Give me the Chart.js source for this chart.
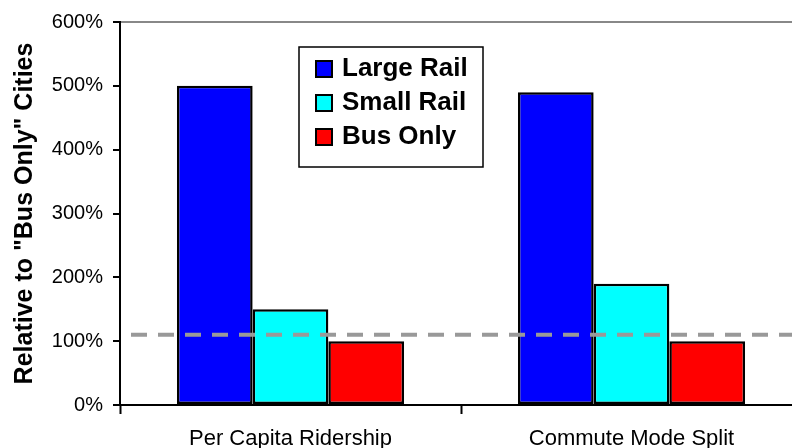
<!DOCTYPE html>
<html>
<head>
<meta charset="utf-8">
<script src="https://cdn.jsdelivr.net/npm/chart.js@4"></script>
<style>
  html, body { margin: 0; padding: 0; overflow: hidden; background: #fff; }
  canvas { display: block; }
</style>
</head>
<body>
<canvas id="chart" width="820" height="448"></canvas>
<script>
const categories = ['Per Capita Ridership', 'Commute Mode Split'];
const largeRail = [500, 490];
const smallRail = [150, 190];
const busOnly = [100, 100];
const referenceLevel = 110;
const yTicks = [0, 100, 200, 300, 400, 500, 600];

const FONT = '"Liberation Sans", Arial, sans-serif';

// dashed reference line across the plot
const refLine = {
  id: 'refLine',
  afterDatasetsDraw(chart) {
    const { ctx, chartArea, scales } = chart;
    const y = scales.y.getPixelForValue(referenceLevel);
    ctx.save();
    ctx.strokeStyle = '#999999';
    ctx.lineWidth = 4;
    ctx.setLineDash([16, 11]);
    ctx.beginPath();
    ctx.moveTo(chartArea.left + 11, y);
    ctx.lineTo(chartArea.right, y);
    ctx.stroke();
    ctx.restore();
  }
};

// boxed legend floating inside the plot
const boxLegend = {
  id: 'boxLegend',
  afterDraw(chart) {
    const ctx = chart.ctx;
    const x0 = 299, y0 = 47, w = 184, h = 120;
    ctx.save();
    ctx.fillStyle = '#fff';
    ctx.fillRect(x0, y0, w, h);
    ctx.strokeStyle = '#000';
    ctx.lineWidth = 1.5;
    ctx.strokeRect(x0, y0, w, h);
    ctx.font = 'bold 26px ' + FONT;
    ctx.textBaseline = 'middle';
    chart.data.datasets.forEach((ds, i) => {
      const cy = 69 + i * 34;
      ctx.fillStyle = ds.backgroundColor;
      ctx.fillRect(316, cy - 8, 16, 16);
      ctx.lineWidth = 2;
      ctx.strokeStyle = '#000';
      ctx.strokeRect(316, cy - 8, 16, 16);
      ctx.fillStyle = '#000';
      ctx.fillText(ds.label, 342, cy);
    });
    ctx.restore();
  }
};

new Chart(document.getElementById('chart'), {
  type: 'bar',
  data: {
    labels: categories,
    datasets: [
      { label: 'Large Rail', data: largeRail, backgroundColor: '#0000ff' },
      { label: 'Small Rail', data: smallRail, backgroundColor: '#00ffff' },
      { label: 'Bus Only', data: busOnly, backgroundColor: '#ff0000' }
    ]
  },
  options: {
    responsive: false,
    animation: false,
    layout: { padding: { left: 0, top: 21, right: 18, bottom: 0 } },
    datasets: {
      bar: {
        categoryPercentage: 0.666,
        barPercentage: 1,
        borderColor: '#000',
        borderWidth: 2.5,
        borderSkipped: false
      }
    },
    plugins: {
      legend: { display: false },
      tooltip: { enabled: false }
    },
    scales: {
      x: {
        afterFit: s => { s.height = 43; },
        grid: {
          offset: true,
          drawOnChartArea: false,
          tickLength: 9,
          tickColor: '#000',
          tickWidth: 2
        },
        border: { color: '#000', width: 2 },
        ticks: { color: '#000', font: { family: FONT, size: 22 }, padding: 12 }
      },
      y: {
        min: 0,
        max: 600,
        afterFit: s => { s.width = 120; },
        afterBuildTicks: s => { s.ticks = yTicks.map(v => ({ value: v })); },
        grid: {
          color: c => (c.tick && c.tick.value === 600 ? '#888888' : 'rgba(0,0,0,0)'),
          lineWidth: 2,
          tickLength: 7,
          tickColor: '#000',
          tickWidth: 2
        },
        border: { color: '#000', width: 2 },
        ticks: {
          color: '#000',
          font: { family: FONT, size: 20 },
          padding: 10,
          callback: v => v + '%'
        },
        title: {
          display: true,
          text: 'Relative to "Bus Only" Cities',
          color: '#000',
          font: { family: FONT, size: 25, weight: 'bold' },
          padding: { top: 10, bottom: 0 }
        }
      }
    }
  },
  plugins: [refLine, boxLegend]
});
</script>
</body>
</html>
